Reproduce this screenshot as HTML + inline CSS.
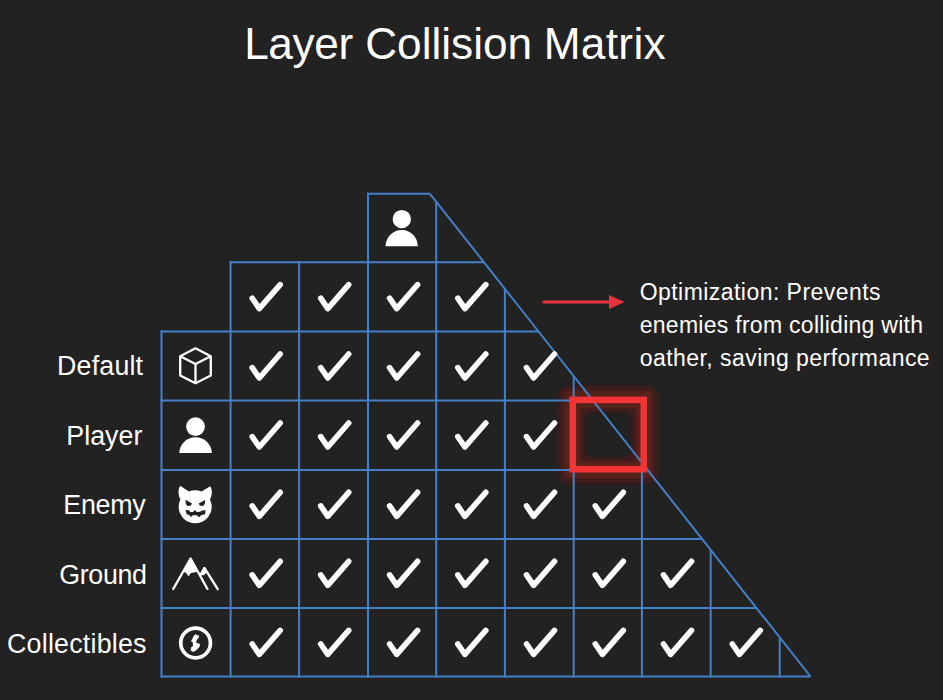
<!DOCTYPE html>
<html><head><meta charset="utf-8">
<style>
html,body{margin:0;padding:0;}
body{width:943px;height:700px;background:#222222;position:relative;overflow:hidden;font-family:"Liberation Sans",sans-serif;color:#fff;}
.t{position:absolute;white-space:nowrap;line-height:1;}
.title{font-size:44.2px;top:22.4px;}
.lab{font-size:26.8px;text-align:right;}
.note{font-size:23px;letter-spacing:0.45px;left:639.7px;line-height:33.05px;top:275.6px;}
</style></head><body>
<svg width="943" height="700" viewBox="0 0 943 700" style="position:absolute;left:0;top:0">
<defs><filter id="soft" x="-30%" y="-30%" width="160%" height="160%"><feGaussianBlur stdDeviation="0.9"/></filter></defs>
<g filter="url(#soft)" fill-rule="evenodd">
<path fill="rgb(64,29,29)" d="M568.3 385.7 H647.6 A10 10 0 0 1 657.6 395.7 V473.4 A10 10 0 0 1 647.6 483.4 H568.3 A10 10 0 0 1 558.3 473.4 V395.7 A10 10 0 0 1 568.3 385.7 Z M591.1 412.5 H625.7 A6 6 0 0 1 631.7 418.5 V451.0 A6 6 0 0 1 625.7 457.0 H591.1 A6 6 0 0 1 585.1 451.0 V418.5 A6 6 0 0 1 591.1 412.5 Z"/>
<path fill="rgb(86,32,31)" d="M568.8 390.9 H647.4 A5 5 0 0 1 652.4 395.9 V472.9 A5 5 0 0 1 647.4 477.9 H568.8 A5 5 0 0 1 563.8 472.9 V395.9 A5 5 0 0 1 568.8 390.9 Z M583.6 408.0 H633.2 A3 3 0 0 1 636.2 411.0 V458.5 A3 3 0 0 1 633.2 461.5 H583.6 A3 3 0 0 1 580.6 458.5 V411.0 A3 3 0 0 1 583.6 408.0 Z"/>
</g>
<g stroke="#4480c8" stroke-width="2.0" stroke-linecap="butt" fill="none">
<line x1="367.00" y1="193.80" x2="430.00" y2="193.80"/>
<line x1="229.60" y1="262.20" x2="483.92" y2="262.20"/>
<line x1="160.50" y1="331.60" x2="538.62" y2="331.60"/>
<line x1="160.50" y1="400.60" x2="593.02" y2="400.60"/>
<line x1="160.50" y1="469.90" x2="647.64" y2="469.90"/>
<line x1="160.50" y1="538.90" x2="702.03" y2="538.90"/>
<line x1="160.50" y1="608.00" x2="756.50" y2="608.00"/>
<line x1="160.50" y1="676.50" x2="810.50" y2="676.50"/>
<line x1="161.50" y1="330.60" x2="161.50" y2="677.50"/>
<line x1="230.60" y1="261.20" x2="230.60" y2="677.50"/>
<line x1="299.10" y1="261.20" x2="299.10" y2="677.50"/>
<line x1="368.00" y1="192.80" x2="368.00" y2="677.50"/>
<line x1="436.20" y1="201.67" x2="436.20" y2="677.50"/>
<line x1="504.90" y1="288.82" x2="504.90" y2="677.50"/>
<line x1="573.70" y1="376.10" x2="573.70" y2="677.50"/>
<line x1="641.90" y1="462.62" x2="641.90" y2="677.50"/>
<line x1="710.70" y1="549.89" x2="710.70" y2="677.50"/>
<line x1="779.70" y1="637.43" x2="779.70" y2="677.50"/>
<line x1="430.00" y1="193.80" x2="810.50" y2="676.50"/>
</g>
<g stroke="#fff" stroke-width="5.6" stroke-linecap="round" stroke-linejoin="round" fill="none">
<path transform="translate(230.60,262.20)" d="M21.6 36 L28.7 46.4 L49.6 22.4"/>
<path transform="translate(299.10,262.20)" d="M21.6 36 L28.7 46.4 L49.6 22.4"/>
<path transform="translate(368.00,262.20)" d="M21.6 36 L28.7 46.4 L49.6 22.4"/>
<path transform="translate(436.20,262.20)" d="M21.6 36 L28.7 46.4 L49.6 22.4"/>
<path transform="translate(230.60,331.60)" d="M21.6 36 L28.7 46.4 L49.6 22.4"/>
<path transform="translate(299.10,331.60)" d="M21.6 36 L28.7 46.4 L49.6 22.4"/>
<path transform="translate(368.00,331.60)" d="M21.6 36 L28.7 46.4 L49.6 22.4"/>
<path transform="translate(436.20,331.60)" d="M21.6 36 L28.7 46.4 L49.6 22.4"/>
<path transform="translate(504.90,331.60)" d="M21.6 36 L28.7 46.4 L49.6 22.4"/>
<path transform="translate(230.60,400.60)" d="M21.6 36 L28.7 46.4 L49.6 22.4"/>
<path transform="translate(299.10,400.60)" d="M21.6 36 L28.7 46.4 L49.6 22.4"/>
<path transform="translate(368.00,400.60)" d="M21.6 36 L28.7 46.4 L49.6 22.4"/>
<path transform="translate(436.20,400.60)" d="M21.6 36 L28.7 46.4 L49.6 22.4"/>
<path transform="translate(504.90,400.60)" d="M21.6 36 L28.7 46.4 L49.6 22.4"/>
<path transform="translate(230.60,469.90)" d="M21.6 36 L28.7 46.4 L49.6 22.4"/>
<path transform="translate(299.10,469.90)" d="M21.6 36 L28.7 46.4 L49.6 22.4"/>
<path transform="translate(368.00,469.90)" d="M21.6 36 L28.7 46.4 L49.6 22.4"/>
<path transform="translate(436.20,469.90)" d="M21.6 36 L28.7 46.4 L49.6 22.4"/>
<path transform="translate(504.90,469.90)" d="M21.6 36 L28.7 46.4 L49.6 22.4"/>
<path transform="translate(573.70,469.90)" d="M21.6 36 L28.7 46.4 L49.6 22.4"/>
<path transform="translate(230.60,538.90)" d="M21.6 36 L28.7 46.4 L49.6 22.4"/>
<path transform="translate(299.10,538.90)" d="M21.6 36 L28.7 46.4 L49.6 22.4"/>
<path transform="translate(368.00,538.90)" d="M21.6 36 L28.7 46.4 L49.6 22.4"/>
<path transform="translate(436.20,538.90)" d="M21.6 36 L28.7 46.4 L49.6 22.4"/>
<path transform="translate(504.90,538.90)" d="M21.6 36 L28.7 46.4 L49.6 22.4"/>
<path transform="translate(573.70,538.90)" d="M21.6 36 L28.7 46.4 L49.6 22.4"/>
<path transform="translate(641.90,538.90)" d="M21.6 36 L28.7 46.4 L49.6 22.4"/>
<path transform="translate(230.60,608.00)" d="M21.6 36 L28.7 46.4 L49.6 22.4"/>
<path transform="translate(299.10,608.00)" d="M21.6 36 L28.7 46.4 L49.6 22.4"/>
<path transform="translate(368.00,608.00)" d="M21.6 36 L28.7 46.4 L49.6 22.4"/>
<path transform="translate(436.20,608.00)" d="M21.6 36 L28.7 46.4 L49.6 22.4"/>
<path transform="translate(504.90,608.00)" d="M21.6 36 L28.7 46.4 L49.6 22.4"/>
<path transform="translate(573.70,608.00)" d="M21.6 36 L28.7 46.4 L49.6 22.4"/>
<path transform="translate(641.90,608.00)" d="M21.6 36 L28.7 46.4 L49.6 22.4"/>
<path transform="translate(710.70,608.00)" d="M21.6 36 L28.7 46.4 L49.6 22.4"/>
</g>
<g fill="#fff">
<g transform="translate(368.00,193.80)"><circle cx="33.8" cy="25.3" r="9.2"/><path d="M17.6 52.5 A16.099999999999998 16.299999999999997 0 0 1 49.8 52.5 Z"/></g>
<g transform="translate(161.50,400.60)"><circle cx="34.0" cy="26.0" r="9.4"/><path d="M17.8 52.5 A16.25 15.799999999999997 0 0 1 50.3 52.5 Z"/></g>
<g transform="translate(161.50,331.60)" fill="none" stroke="#fff" stroke-width="2.3" stroke-linejoin="round"><path d="M34 16.7 L49.3 24.6 L49.3 43.8 L34 51.7 L18.7 43.8 L18.7 24.6 Z M18.7 24.6 L34 32.5 L49.3 24.6 M34 32.5 L34 51.7"/></g>
<g transform="translate(161.50,469.90)"><circle cx="33.7" cy="36.9" r="16.5" fill="#fff"/><path fill="#fff" d="M18.7 15.9 Q16.9 18.5 17.0 22.5 Q17.2 26 18.6 29 L24 33 L31 25 L27 21.3 Z M48.7 16.3 Q50.5 19 50.4 22.5 Q50.2 26 48.8 29 L43.4 33 L36.4 25 L40.5 21.3 Z"/><path fill="#222" d="M24.1 29.8 L30.6 33.6 Q29.8 36.3 27.1 36.2 Q24.2 35.8 24.1 32 Z M43.5 30.1 L37.1 33.6 Q37.9 36.3 40.5 36.2 Q43.3 35.8 43.5 32 Z"/><path fill="#222" d="M24 40 L27.5 40.3 L28.9 42.1 L31.4 42.1 L33.5 40.2 L35.3 42.1 L38.5 41.9 L40 40.9 L44 40 L43.6 44.3 L41.3 44.9 L39.3 45.6 L37.4 47.3 L35.6 45.6 L33.5 45 L30.9 45.6 L29.6 47.3 L28.1 45.3 L25.2 44.3 Z"/></g>
<g transform="translate(161.50,538.90)"><path fill="none" stroke="#fff" stroke-width="2.3" stroke-linecap="butt" stroke-linejoin="round" d="M11.3 50.9 L29.1 19.6 L46.4 50.9 M38.8 36.6 L42.9 29 L56.7 50.9"/><path fill="#fff" d="M29.1 18.8 L36.3 31.5 L35.3 33.2 L32.1 33.6 L29.4 34.2 L27 37.4 L24.6 34 L22.5 33 Z"/><path fill="#fff" d="M42.9 28.1 L46.7 34 L44.9 34.2 L41.9 36.6 L39.4 35.6 L38.6 34.5 Z"/></g>
<g transform="translate(161.50,608.00)"><circle cx="34.1" cy="35.0" r="14.85" fill="none" stroke="#fff" stroke-width="3.7"/><path fill="#fff" d="M34.1 26 L35.7 27.6 L37.3 27 L37.5 29.2 L35.3 32 L34.5 34.4 L38.5 36 L38.1 38.8 L34.5 42.4 L31.7 44 L29.1 42.4 L29.5 39.6 L31.7 38 L31.1 36 L31.7 34.8 L29.5 33.2 L30.9 30.8 L31.7 28.8 Z"/></g>
</g>
<rect x="572.8" y="399.9" width="71" height="69.3" fill="none" stroke="#f23434" stroke-width="6.6"/>
<line x1="543.8" y1="302" x2="611" y2="302" stroke="#e8333a" stroke-width="3" stroke-linecap="round"/>
<path d="M609 295 L624.6 302 L609 309.3 Z" fill="#e8333a"/>
</svg>
<div class="t title" style="left:244.2px;letter-spacing:-0.4px">Layer</div><div class="t title" style="left:365.2px">Collision</div><div class="t title" style="left:543.7px;letter-spacing:0.33px">Matrix</div>
<div class="t lab" style="top:353.2px;right:799.8px;letter-spacing:0.17px">Default</div>
<div class="t lab" style="top:422.8px;right:800.7px">Player</div>
<div class="t lab" style="top:492.4px;right:797.5px;letter-spacing:-0.25px">Enemy</div>
<div class="t lab" style="top:561.7px;right:796.4px;letter-spacing:-0.34px">Ground</div>
<div class="t lab" style="top:630.6px;right:796.3px;letter-spacing:0.22px">Collectibles</div>
<div class="t note">Optimization: Prevents<br><span style="letter-spacing:0.28px">enemies from colliding with</span><br>oather, saving performance</div>
</body></html>
